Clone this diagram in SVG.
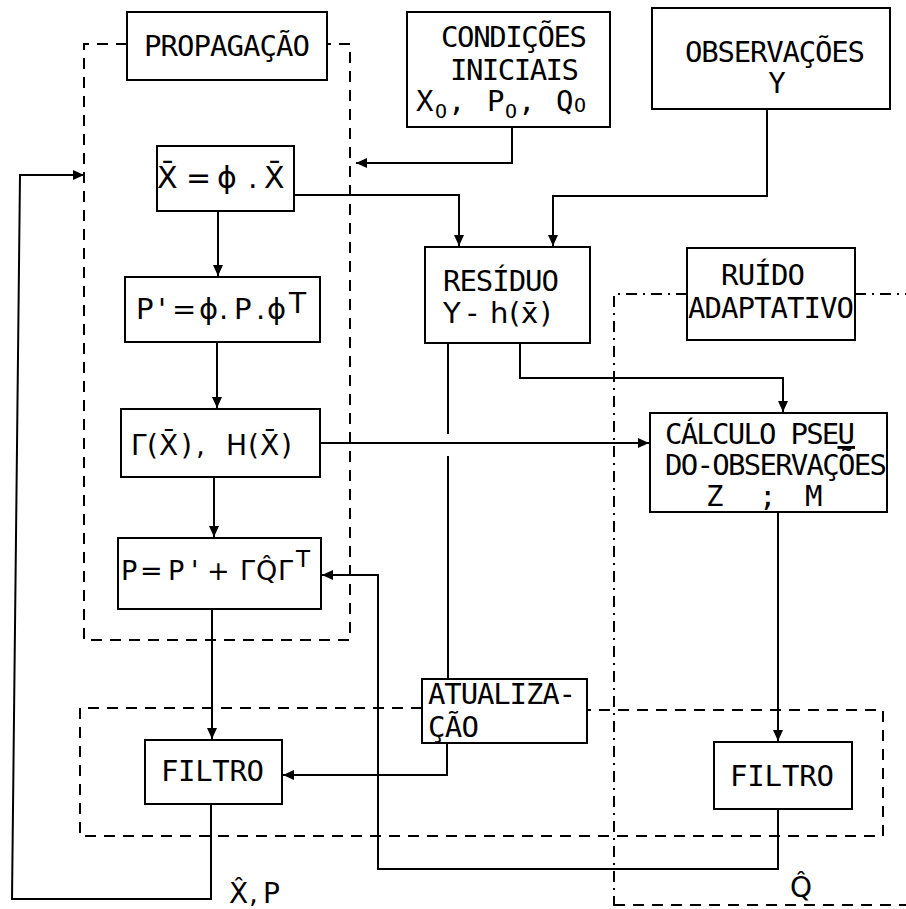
<svg xmlns="http://www.w3.org/2000/svg" width="906" height="909" viewBox="0 0 906 909">
<style>
.box{fill:#fff;stroke:#000;stroke-width:2}
.t{font-family:"DejaVu Sans Mono","Liberation Mono",monospace;font-size:29px;fill:#000}
.f{font-family:"DejaVu Sans","Liberation Sans",sans-serif;fill:#000}
.c{fill:none;stroke:#000;stroke-width:2}
.d{fill:none;stroke:#000;stroke-width:2;stroke-dasharray:11 8}
.dd{fill:none;stroke:#000;stroke-width:2;stroke-dasharray:11 6 2 6}
</style>
<defs>
<marker id="a" markerUnits="userSpaceOnUse" markerWidth="12" markerHeight="12" refX="11" refY="6" orient="auto">
<path d="M0 1 L11 6 L0 11 Z" fill="#000"/>
</marker>
</defs>
<rect width="906" height="909" fill="#fff"/>
<g id="regions">
<path class="d" d="M127 44 L84 44 L84 640 L350 640 L350 44 L327 44"/>
<path class="d" d="M422 708 L80 708 L80 836 L883 836 L883 710 L587 710"/>
<path class="dd" d="M687 294 L614 294 L614 906"/>
<path class="dd" d="M855 294 L906 294"/>
<path class="d" d="M614 905 L906 905"/>
</g>
<g id="connectors">
<path class="c" d="M218 211 L218 276" marker-end="url(#a)"/>
<path class="c" d="M217 342 L217 408" marker-end="url(#a)"/>
<path class="c" d="M214 477 L214 537" marker-end="url(#a)"/>
<path class="c" d="M212 609 L212 739" marker-end="url(#a)"/>
<path class="c" d="M211 805 L211 899 L12 899 L20 175 L84 175" marker-end="url(#a)"/>
<path class="c" d="M512 127 L512 163 L356 163" marker-end="url(#a)"/>
<path class="c" d="M294 195 L459 195 L459 246" marker-end="url(#a)"/>
<path class="c" d="M767 109 L767 196 L553 196 L553 246" marker-end="url(#a)"/>
<path class="c" d="M520 343 L520 378 L783 378 L783 412" marker-end="url(#a)"/>
<path class="c" d="M320 443 L649 443" marker-end="url(#a)"/>
<path class="c" d="M448 343 L448 434 M448 456 L448 679"/>
<path class="c" d="M447 743 L447 775 L283 775" marker-end="url(#a)"/>
<path class="c" d="M778 512 L778 741" marker-end="url(#a)"/>
<path class="c" d="M778 809 L778 869 L378 869 L378 575 L322 575" marker-end="url(#a)"/>
</g>
<g id="propagacao">
<rect class="box" x="127" y="12" width="200" height="68"/>
<text class="t" x="144" y="56" textLength="166" lengthAdjust="spacing">PROPAGAÇÃO</text>
</g>
<g id="condicoes">
<rect class="box" x="407" y="12" width="203" height="115"/>
<text class="t" x="441" y="47" textLength="146" lengthAdjust="spacing">CONDIÇÕES</text>
<text class="t" x="450" y="80" textLength="129" lengthAdjust="spacing">INICIAIS</text>
<text class="t" y="111"><tspan x="416">X</tspan><tspan x="435" y="118" font-size="20">O</tspan><tspan x="448" y="111">,</tspan><tspan x="487">P</tspan><tspan x="505" y="118" font-size="20">O</tspan><tspan x="518" y="111">,</tspan><tspan x="556">Q</tspan><tspan x="574" y="112" font-size="20">O</tspan></text>
</g>
<g id="observacoes">
<rect class="box" x="652" y="8" width="238" height="101"/>
<text class="t" x="685" y="62" textLength="180" lengthAdjust="spacing">OBSERVAÇÕES</text>
<text class="t" x="777" y="93" text-anchor="middle">Y</text>
</g>
<g id="xbar">
<rect class="box" x="157" y="146" width="137" height="65"/>
<text class="f" y="188" font-size="30"><tspan x="157">X̄</tspan><tspan x="186">=</tspan><tspan x="217">ϕ</tspan><tspan x="248">.</tspan><tspan x="264">X̄</tspan></text>
</g>
<g id="plinha">
<rect class="box" x="125" y="277" width="195" height="65"/>
<text class="f" y="319" font-size="29"><tspan x="136">P</tspan><tspan x="158">'</tspan><tspan x="172">=</tspan><tspan x="199">ϕ</tspan><tspan x="219">.</tspan><tspan x="234">P</tspan><tspan x="256">.</tspan><tspan x="267">ϕ</tspan><tspan x="289" y="313" font-size="28">T</tspan></text>
</g>
<g id="gama">
<rect class="box" x="121" y="409" width="199" height="68"/>
<text class="f" y="455" font-size="28"><tspan x="131">Γ</tspan><tspan x="147">(</tspan><tspan x="159">X̄</tspan><tspan x="181">)</tspan><tspan x="196">,</tspan><tspan x="226">H</tspan><tspan x="248">(</tspan><tspan x="260">X̄</tspan><tspan x="281">)</tspan></text>
</g>
<g id="pcov">
<rect class="box" x="118" y="538" width="203" height="71"/>
<text class="f" y="580" font-size="27"><tspan x="121">P</tspan><tspan x="140">=</tspan><tspan x="168">P</tspan><tspan x="191">'</tspan><tspan x="207">+</tspan><tspan x="240">Γ</tspan><tspan x="256">Q̂</tspan><tspan x="278">Γ</tspan><tspan x="296" y="567" font-size="23">T</tspan></text>
</g>
<g id="residuo">
<rect class="box" x="425" y="247" width="165" height="96"/>
<text class="t" x="443" y="291" textLength="116" lengthAdjust="spacing">RESÍDUO</text>
<text class="f" y="323" font-size="29"><tspan x="443">Y</tspan><tspan x="467">-</tspan><tspan x="490">h</tspan><tspan x="509">(</tspan><tspan x="521">x̄</tspan><tspan x="540">)</tspan></text>
</g>
<g id="ruido">
<rect class="box" x="687" y="248" width="168" height="92"/>
<text class="t" x="721" y="285" textLength="84" lengthAdjust="spacing">RUÍDO</text>
<text class="t" x="688" y="318" textLength="166" lengthAdjust="spacing">ADAPTATIVO</text>
</g>
<g id="calculo">
<rect class="box" x="650" y="413" width="237" height="99"/>
<text class="t" x="665" y="444" font-size="27" textLength="190" lengthAdjust="spacing">CÁLCULO PSE<tspan text-decoration="underline">U</tspan></text>
<text class="t" x="665" y="475" font-size="27" textLength="222" lengthAdjust="spacing">DO-OBSERVAÇÕES</text>
<text class="t" y="506" font-size="27"><tspan x="706">Z</tspan><tspan x="759">;</tspan><tspan x="805">M</tspan></text>
</g>
<g id="atualizacao">
<rect class="box" x="422" y="679" width="165" height="64"/>
<text class="t" x="428" y="704" textLength="148" lengthAdjust="spacing">ATUALIZA-</text>
<text class="t" x="428" y="737" textLength="51" lengthAdjust="spacing">ÇÃO</text>
</g>
<g id="filtro1">
<rect class="box" x="145" y="740" width="137" height="64"/>
<text class="t" x="161" y="781" textLength="103" lengthAdjust="spacing">FILTRO</text>
</g>
<g id="filtro2">
<rect class="box" x="714" y="742" width="138" height="67"/>
<text class="t" x="730" y="786" textLength="104" lengthAdjust="spacing">FILTRO</text>
</g>
<g id="labels">
<text class="f" y="903" font-size="28"><tspan x="229">X̂</tspan><tspan x="249">,</tspan><tspan x="263">P</tspan></text>
<text class="f" x="790" y="897" font-size="28">Q̂</text>
</g>
</svg>
